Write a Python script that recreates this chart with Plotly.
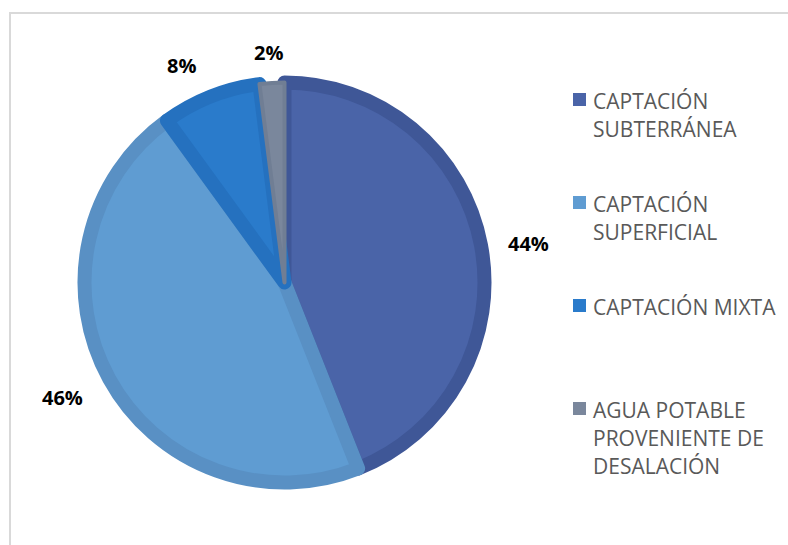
import math
import plotly.graph_objects as go

# Water-supply sources and their shares (%)
categories = [
    "CAPTACIÓN<br>SUBTERRÁNEA",
    "CAPTACIÓN<br>SUPERFICIAL",
    "CAPTACIÓN MIXTA",
    "AGUA POTABLE<br>PROVENIENTE DE<br>DESALACIÓN",
]
shares = [44, 46, 8, 2]
fill_colors = ["#4a64a8", "#5f9cd2", "#2a7bcb", "#7a879c"]
edge_colors = ["#3f5797", "#5990c4", "#2571bf", "#707e94"]
edge_widths = [14, 14, 14, 4]

# Outside-label placement: radial distance (px) and small angular nudge (deg)
label_radius = [247, 250, 240, 231]
label_nudge = [1.8, 1.5, -3.7, -0.4]

W, H = 788, 545
cx, cy = 284.5, 282.5          # pie centre in pixels (from top-left)
r_out = 207.0                   # outer radius incl. edge band
r_geo = r_out - max(edge_widths) / 2

dom_x = [(cx - r_geo) / W, (cx + r_geo) / W]
dom_y = [1 - (cy + r_geo) / H, 1 - (cy - r_geo) / H]

fig = go.Figure()
fig.add_trace(go.Pie(
    labels=categories,
    values=shares,
    sort=False,
    direction="clockwise",
    rotation=0,
    textinfo="none",
    hoverinfo="label+percent",
    showlegend=False,
    marker=dict(colors=fill_colors, line=dict(color=edge_colors, width=edge_widths)),
    domain=dict(x=dom_x, y=dom_y),
))

# Percentage labels outside each slice, around its mid-angle
annotations = []
total = sum(shares)
acc = 0
for v, rl, nd in zip(shares, label_radius, label_nudge):
    mid = (acc + v / 2) / total * 2 * math.pi + math.radians(nd)
    acc += v
    px = cx + rl * math.sin(mid)
    py = cy - rl * math.cos(mid)
    annotations.append(dict(
        x=px / W, y=1 - py / H, xref="paper", yref="paper",
        text=f"<b>{round(v / total * 100)}%</b>", showarrow=False,
        font=dict(family="Open Sans", size=20, color="#000000"),
        xanchor="center", yanchor="middle",
    ))

# Legend: coloured squares with wrapped labels
shapes = []
leg_x_sq, leg_x_txt = 579.5, 591
leg_y0, leg_slot, line_h, sq = 101.0, 103.0, 28.0, 13
for i, (lab, col) in enumerate(zip(categories, fill_colors)):
    y_first = leg_y0 + i * leg_slot
    shapes.append(dict(
        type="rect", xref="paper", yref="paper",
        x0=(leg_x_sq - sq / 2) / W, x1=(leg_x_sq + sq / 2) / W,
        y0=1 - (y_first - 1.5 + sq / 2) / H, y1=1 - (y_first - 1.5 - sq / 2) / H,
        fillcolor=col, line=dict(width=0),
    ))
    for j, line in enumerate(lab.split("<br>")):
        annotations.append(dict(
            x=leg_x_txt / W, y=1 - (y_first + j * line_h) / H,
            xref="paper", yref="paper", text=line, showarrow=False,
            font=dict(family="Open Sans", size=21, color="#595959"),
            xanchor="left", yanchor="middle",
        ))

# Chart-area frame
shapes.append(dict(
    type="rect", xref="paper", yref="paper",
    x0=10 / W, x1=1.1, y0=-0.1, y1=1 - 13 / H,
    line=dict(color="#d9d9d9", width=2), fillcolor="rgba(0,0,0,0)",
))

fig.update_layout(
    width=W, height=H,
    margin=dict(l=0, r=0, t=0, b=0),
    paper_bgcolor="#ffffff", plot_bgcolor="#ffffff",
    annotations=annotations, shapes=shapes,
    font=dict(family="Open Sans"),
)

fig.write_html("out.html")
